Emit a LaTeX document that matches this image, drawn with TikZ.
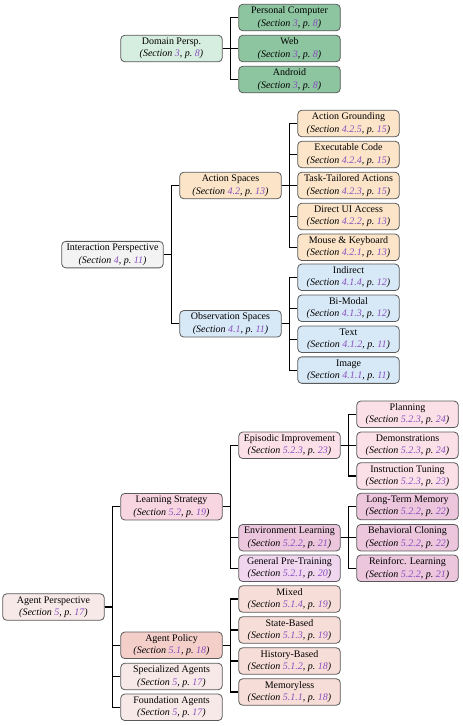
\documentclass[tikz,border=0pt]{standalone}
\usepackage{fontspec}
\setmainfont{Liberation Serif}
\usetikzlibrary{positioning}
\definecolor{linkc}{HTML}{8A4FC0}
\definecolor{bordc}{HTML}{5A5A5A}
\definecolor{cDomain}{HTML}{D6EEDF}
\definecolor{cGreen}{HTML}{8CC5A0}
\definecolor{cGray}{HTML}{F3F3F3}
\definecolor{cAction}{HTML}{FBE4C8}
\definecolor{cObs}{HTML}{D7E8F7}
\definecolor{cAgent}{HTML}{F8E9E9}
\definecolor{cLearn}{HTML}{F8D6E1}
\definecolor{cEpis}{HTML}{FBE0E8}
\definecolor{cEnv}{HTML}{ECC6DC}
\definecolor{cGen}{HTML}{F0D6EF}
\definecolor{cPolicy}{HTML}{F4CFCA}
\definecolor{cPolc}{HTML}{F7DDD7}
\newcommand{\mysec}[2]{{\itshape (Section \textcolor{linkc}{#1}, p.~\textcolor{linkc}{#2})}}
\tikzset{
  box/.style={draw=bordc, line width=0.8pt, rounded corners=4pt, minimum width=101.5pt,
    minimum height=26.5pt, inner sep=1pt, align=center,
    font=\fontsize{10}{12.5}\selectfont},
  conn/.style={draw=black, line width=1.1pt},
}
\begin{document}
\begin{tikzpicture}[x=1pt,y=-1pt]
\useasboundingbox (0,0) rectangle (463,726);
% Domain
\node[box, fill=cDomain] (dom) at (171.5,48.5) {Domain Persp.\\\mysec{3}{8}};
\node[box, fill=cGreen] (pc) at (289.5,17.5) {Personal Computer\\\mysec{3}{8}};
\node[box, fill=cGreen] (web) at (289.5,48.5) {Web\\\mysec{3}{8}};
\node[box, fill=cGreen] (and) at (289.5,79.5) {Android\\\mysec{3}{8}};
\foreach \c in {pc,web,and} \draw[conn] (dom.east) -- ++(8.25,0) |- (\c.west);
% Interaction
\node[box, fill=cGray] (inter) at (112.5,254.6) {Interaction Perspective\\\mysec{4}{11}};
\node[box, fill=cAction] (act) at (230.5,185.5) {Action Spaces\\\mysec{4.2}{13}};
\node[box, fill=cObs] (obs) at (230.5,323.8) {Observation Spaces\\\mysec{4.1}{11}};
\foreach \c in {act,obs} \draw[conn] (inter.east) -- ++(8.25,0) |- (\c.west);
\node[box, fill=cAction] (ag) at (348.5,123.5) {Action Grounding\\\mysec{4.2.5}{15}};
\node[box, fill=cAction] (ec) at (348.5,154.5) {Executable Code\\\mysec{4.2.4}{15}};
\node[box, fill=cAction] (tt) at (348.5,185.5) {Task-Tailored Actions\\\mysec{4.2.3}{15}};
\node[box, fill=cAction] (dui) at (348.5,216.5) {Direct UI Access\\\mysec{4.2.2}{13}};
\node[box, fill=cAction] (mk) at (348.5,247.3) {Mouse \& Keyboard\\\mysec{4.2.1}{13}};
\foreach \c in {ag,ec,tt,dui,mk} \draw[conn] (act.east) -- ++(8.25,0) |- (\c.west);
\node[box, fill=cObs] (ind) at (348.5,277.3) {Indirect\\\mysec{4.1.4}{12}};
\node[box, fill=cObs] (bim) at (348.5,308.3) {Bi-Modal\\\mysec{4.1.3}{12}};
\node[box, fill=cObs] (txt) at (348.5,339.3) {Text\\\mysec{4.1.2}{11}};
\node[box, fill=cObs] (img) at (348.5,370.1) {Image\\\mysec{4.1.1}{11}};
\foreach \c in {ind,bim,txt,img} \draw[conn] (obs.east) -- ++(8.25,0) |- (\c.west);
% Agent
\node[box, fill=cAgent] (agent) at (53.5,607) {Agent Perspective\\\mysec{5}{17}};
\node[box, fill=cLearn] (ls) at (171.5,506.7) {Learning Strategy\\\mysec{5.2}{19}};
\node[box, fill=cPolicy] (ap) at (171.5,645.3) {Agent Policy\\\mysec{5.1}{18}};
\node[box, fill=cAgent] (spec) at (171.5,676.5) {Specialized Agents\\\mysec{5}{17}};
\node[box, fill=cAgent] (found) at (171.5,707.3) {Foundation Agents\\\mysec{5}{17}};
\foreach \c in {ls,ap,spec,found} \draw[conn] (agent.east) -- ++(8.25,0) |- (\c.west);
\node[box, fill=cEpis] (epi) at (289.5,445.3) {Episodic Improvement\\\mysec{5.2.3}{23}};
\node[box, fill=cEnv] (env) at (289.5,537.7) {Environment Learning\\\mysec{5.2.2}{21}};
\node[box, fill=cGen] (gen) at (289.5,568.3) {General Pre-Training\\\mysec{5.2.1}{20}};
\foreach \c in {epi,env,gen} \draw[conn] (ls.east) -- ++(8.25,0) |- (\c.west);
\node[box, fill=cEpis] (plan) at (407.5,414.3) {Planning\\\mysec{5.2.3}{24}};
\node[box, fill=cEpis] (demo) at (407.5,445.3) {Demonstrations\\\mysec{5.2.3}{24}};
\node[box, fill=cEpis] (it) at (407.5,476) {Instruction Tuning\\\mysec{5.2.3}{23}};
\foreach \c in {plan,demo,it} \draw[conn] (epi.east) -- ++(8.25,0) |- (\c.west);
\node[box, fill=cEnv] (ltm) at (407.5,506.5) {Long-Term Memory\\\mysec{5.2.2}{22}};
\node[box, fill=cEnv] (bc) at (407.5,537.7) {Behavioral Cloning\\\mysec{5.2.2}{22}};
\node[box, fill=cEnv] (rl) at (407.5,568.3) {Reinforc. Learning\\\mysec{5.2.2}{21}};
\foreach \c in {ltm,bc,rl} \draw[conn] (env.east) -- ++(8.25,0) |- (\c.west);
\node[box, fill=cPolc] (mix) at (289.5,599) {Mixed\\\mysec{5.1.4}{19}};
\node[box, fill=cPolc] (sb) at (289.5,630) {State-Based\\\mysec{5.1.3}{19}};
\node[box, fill=cPolc] (hb) at (289.5,661) {History-Based\\\mysec{5.1.2}{18}};
\node[box, fill=cPolc] (ml) at (289.5,692) {Memoryless\\\mysec{5.1.1}{18}};
\foreach \c in {mix,sb,hb,ml} \draw[conn] (ap.east) -- ++(8.25,0) |- (\c.west);
\end{tikzpicture}
\end{document}
